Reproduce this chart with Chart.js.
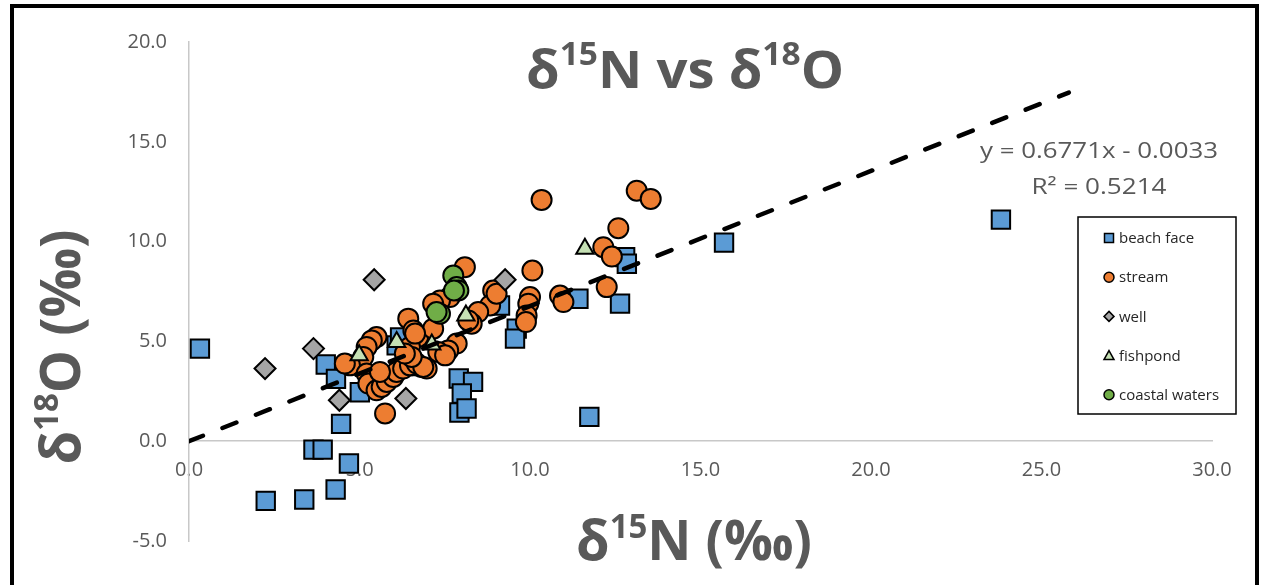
<!DOCTYPE html>
<html>
<head>
<meta charset="utf-8">
<script src="https://cdn.jsdelivr.net/npm/chart.js@4.4.0/dist/chart.umd.min.js"></script>
<style>
  html, body { margin: 0; padding: 0; background: #fff; }
  #wrap { width: 1264px; height: 585px; position: relative; }
</style>
</head>
<body>
<div id="wrap"><canvas id="mycanvas"></canvas></div>
<script>
// d15N, d18O pairs
var beachFace = [
  [0.32, 4.64], [4.01, 3.84], [4.31, 3.12], [5.01, 2.45], [4.46, 0.87],
  [3.65, -0.42], [3.92, -0.42], [4.69, -1.12], [4.30, -2.42], [3.38, -2.92],
  [2.25, -2.99], [6.09, 4.80], [6.19, 5.20], [7.91, 3.14], [8.33, 2.97],
  [8.00, 2.39], [7.93, 1.44], [8.14, 1.64], [9.12, 6.80], [9.61, 5.64],
  [9.56, 5.14], [11.42, 7.14], [12.64, 6.89], [12.79, 9.22], [12.84, 8.89],
  [11.74, 1.22], [15.69, 9.95], [23.81, 11.10]
];
var stream = [
  [10.34, 12.09], [13.13, 12.55], [13.54, 12.14], [12.59, 10.67], [12.15, 9.72],
  [12.40, 9.25], [12.25, 7.72], [10.07, 8.55], [10.00, 7.22], [9.95, 6.89],
  [9.90, 6.30], [9.88, 5.97], [10.88, 7.30], [10.98, 6.97], [8.09, 8.72],
  [8.92, 7.55], [8.83, 6.80], [9.02, 7.39], [8.48, 6.47], [8.29, 5.89],
  [8.19, 6.05], [7.85, 4.89], [7.65, 7.22], [7.36, 7.05], [7.16, 6.89],
  [6.43, 6.14], [6.58, 5.55], [6.72, 5.22], [7.16, 5.64], [7.60, 4.55],
  [6.38, 4.22], [6.58, 3.80], [6.82, 3.72], [6.97, 3.64], [6.48, 4.72],
  [6.63, 5.39], [7.31, 4.47], [7.51, 4.30], [5.50, 5.22], [5.36, 5.05],
  [5.21, 4.72], [5.11, 4.22], [4.72, 3.80], [5.21, 3.39], [5.26, 2.89],
  [5.50, 2.55], [5.65, 2.72], [5.80, 2.97], [5.99, 3.22], [6.09, 3.47],
  [6.28, 3.64], [6.48, 3.80], [6.68, 3.89], [6.87, 3.72], [6.53, 4.22],
  [6.33, 4.39], [5.75, 1.39], [5.60, 3.47], [4.57, 3.89]
];
var well = [[5.43, 8.09], [3.65, 4.64], [2.23, 3.64], [4.41, 2.05], [6.36, 2.14], [9.27, 8.09]];
var fishpond = [[4.99, 4.30], [6.09, 4.97], [7.12, 4.85], [8.12, 6.30], [11.61, 9.64]];
var coastalWaters = [[7.75, 8.30], [7.85, 7.72], [7.90, 7.55], [7.77, 7.55], [7.36, 6.39], [7.26, 6.47]];

var seriesNames = ['beach face', 'stream', 'well', 'fishpond', 'coastal waters'];
var xTicks = [0, 5, 10, 15, 20, 25, 30];
var yTicks = [-5, 0, 5, 10, 15, 20];

// linear trend shown in the picture
var trendSlope = 0.6771;
var trendIntercept = -0.0033;
var trendRSquared = 0.5214;
var trendFrom = 0, trendTo = 25.8;

function toPoints(arr) {
  return arr.map(function(p) { return {x: p[0], y: p[1]}; });
}

var GRAY = '#595959';

function drawMarker(ctx, style, x, y, r, fill) {
  ctx.save();
  ctx.fillStyle = fill;
  ctx.strokeStyle = '#000';
  ctx.lineWidth = 1.5;
  ctx.beginPath();
  if (style === 'rect') {
    ctx.rect(x - r, y - r, 2 * r, 2 * r);
  } else if (style === 'circle') {
    ctx.arc(x, y, r, 0, Math.PI * 2);
  } else if (style === 'rectRot') {
    ctx.moveTo(x, y - r); ctx.lineTo(x + r, y); ctx.lineTo(x, y + r); ctx.lineTo(x - r, y); ctx.closePath();
  } else if (style === 'triangle') {
    ctx.moveTo(x, y - r); ctx.lineTo(x + r, y + r * 0.8); ctx.lineTo(x - r, y + r * 0.8); ctx.closePath();
  }
  ctx.fill();
  ctx.stroke();
  ctx.restore();
}

// text made of pieces, some raised (superscripts)
function drawRich(ctx, parts, cx, base, width, angle) {
  var total = 0;
  parts.forEach(function(p) {
    ctx.font = 'bold ' + p[1] + 'px "Open Sans"';
    p.w = ctx.measureText(p[0]).width;
    total += p.w;
  });
  var sx = width ? width / total : 1;
  ctx.save();
  ctx.translate(cx, base);
  if (angle) ctx.rotate(angle);
  ctx.scale(sx, 1);
  ctx.fillStyle = GRAY;
  ctx.textBaseline = 'alphabetic';
  ctx.textAlign = 'left';
  var x = -total / 2;
  parts.forEach(function(p) {
    ctx.font = 'bold ' + p[1] + 'px "Open Sans"';
    ctx.fillText(p[0], x, -p[2]);
    x += p.w;
  });
  ctx.restore();
}

function drawStretched(ctx, text, font, cx, base, width) {
  ctx.save();
  ctx.font = font;
  var w = ctx.measureText(text).width;
  ctx.translate(cx, base);
  ctx.scale(width / w, 1);
  ctx.textAlign = 'center';
  ctx.textBaseline = 'alphabetic';
  ctx.fillStyle = GRAY;
  ctx.fillText(text, 0, 0);
  ctx.restore();
}

var decorPlugin = {
  id: 'decor',
  afterDraw: function(chart) {
    var ctx = chart.ctx;

    // outer frame
    ctx.save();
    ctx.strokeStyle = '#000';
    ctx.lineWidth = 4;
    ctx.strokeRect(12, 6, 1245, 640);
    ctx.restore();

    // titles
    drawRich(ctx, [['\u03b4', 52, 0], ['15', 32, 23], ['N vs \u03b4', 52, 0], ['18', 32, 23], ['O', 52, 0]], 685, 88, 318);
    drawRich(ctx, [['\u03b4', 56, 0], ['15', 34, 22], ['N (\u2030)', 56, 0]], 694, 560, 236);
    drawRich(ctx, [['\u03b4', 56, 0], ['18', 34, 22], ['O (\u2030)', 56, 0]], 80, 347, 235, -Math.PI / 2);

    // trend equation
    var sign = trendIntercept < 0 ? ' - ' : ' + ';
    drawStretched(ctx, 'y = ' + trendSlope.toFixed(4) + 'x' + sign + Math.abs(trendIntercept).toFixed(4),
      '22px "Open Sans"', 1099, 158, 238);
    drawStretched(ctx, 'R\u00b2 = ' + trendRSquared.toFixed(4), '22px "Open Sans"', 1099, 194, 135);

    // legend box
    ctx.save();
    ctx.strokeStyle = '#000';
    ctx.lineWidth = 1.5;
    ctx.strokeRect(1078, 217, 158, 197);
    ctx.font = '15px "Open Sans"';
    ctx.textBaseline = 'middle';
    ctx.textAlign = 'left';
    ctx.fillStyle = '#262626';
    var ly = 238;
    chart.data.datasets.forEach(function(ds) {
      if (!ds.inLegend) return;
      var r = ds.pointStyle === 'rect' ? 4.5 : 5;
      drawMarker(ctx, ds.pointStyle, 1109, ly, r, ds.backgroundColor);
      ctx.fillStyle = '#262626';
      ctx.fillText(ds.label, 1119, ly + 1);
      ly += 39.2;
    });
    ctx.restore();
  }
};

var tickFont = {family: 'Open Sans', size: 20};

var ctx = document.getElementById('mycanvas');
var chart = new Chart(ctx, {
  type: 'scatter',
  data: {
    datasets: [
      {
        label: 'trend', inLegend: false, type: 'line',
        data: [{x: trendFrom, y: trendSlope * trendFrom + trendIntercept}, {x: trendTo, y: trendSlope * trendTo + trendIntercept}],
        borderColor: '#000', borderWidth: 4.5, borderDash: [15, 21], borderCapStyle: 'round',
        pointRadius: 0, fill: false, order: 0
      },
      { label: seriesNames[0], inLegend: true, data: toPoints(beachFace), pointStyle: 'rect', pointRadius: 13,
        backgroundColor: '#5B9BD5', borderColor: '#000', borderWidth: 2, order: 5 },
      { label: seriesNames[1], inLegend: true, data: toPoints(stream), pointStyle: 'circle', pointRadius: 10,
        backgroundColor: '#ED7D31', borderColor: '#000', borderWidth: 2, order: 4 },
      { label: seriesNames[2], inLegend: true, data: toPoints(well), pointStyle: 'rectRot', pointRadius: 10.5,
        backgroundColor: '#A5A5A5', borderColor: '#000', borderWidth: 2, order: 3 },
      { label: seriesNames[3], inLegend: true, data: toPoints(fishpond), pointStyle: 'triangle', pointRadius: 10,
        backgroundColor: '#C5E0B4', borderColor: '#000', borderWidth: 2, order: 2 },
      { label: seriesNames[4], inLegend: true, data: toPoints(coastalWaters), pointStyle: 'circle', pointRadius: 10,
        backgroundColor: '#70AD47', borderColor: '#000', borderWidth: 2, order: 1 }
    ]
  },
  options: {
    responsive: true,
    maintainAspectRatio: false,
    animation: false,
    layout: { padding: { left: 0, right: 52, top: 42, bottom: 44 } },
    plugins: { legend: { display: false }, tooltip: { enabled: false } },
    scales: {
      x: {
        type: 'linear', position: { y: 0 }, min: xTicks[0], max: xTicks[xTicks.length - 1],
        afterBuildTicks: function(s) { s.ticks = xTicks.map(function(v) { return {value: v}; }); },
        afterFit: function(s) { s.height = 0; },
        ticks: { padding: 17, color: GRAY, font: tickFont, maxRotation: 0,
                 callback: function(v) { return Number(v).toFixed(1); } },
        grid: { display: false, drawTicks: false },
        border: { display: true, color: '#C8C8C8', width: 1.5 }
      },
      y: {
        type: 'linear', position: 'left', min: yTicks[0], max: yTicks[yTicks.length - 1],
        afterBuildTicks: function(s) { s.ticks = yTicks.map(function(v) { return {value: v}; }); },
        afterFit: function(s) { s.width = 189; },
        ticks: { padding: 22, color: GRAY, font: tickFont,
                 callback: function(v) { return Number(v).toFixed(1); } },
        grid: { display: false, drawTicks: false },
        border: { display: true, color: '#C8C8C8', width: 1.5 }
      }
    }
  },
  plugins: [decorPlugin]
});
</script>
</body>
</html>
